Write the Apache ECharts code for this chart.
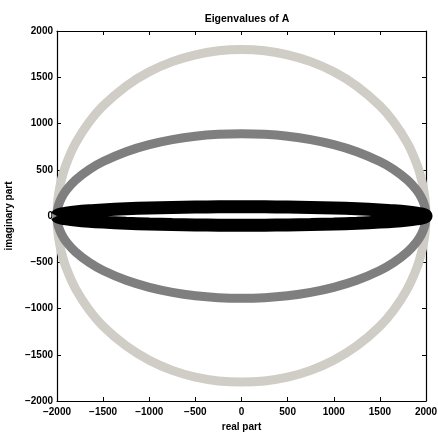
<!DOCTYPE html>
<html>
<head>
<meta charset="utf-8">
<script src="https://cdn.jsdelivr.net/npm/echarts@6/dist/echarts.min.js"></script>
<style>
  html, body { margin: 0; padding: 0; background: #fff; }
  #chart { width: 438px; height: 433px; }
</style>
</head>
<body>
<div id="chart"></div>
<script>
// points: real part along each ring
const realUpper = [-2000, -1995, -1980, -1950, -1900, -1800, -1650, -1500, -1250, -1000, -750, -500, -250, 0,
    250, 500, 750, 1000, 1250, 1500, 1650, 1800, 1900, 1950, 1980, 1995, 2000];
const realLower = [2000, 1995, 1980, 1950, 1900, 1800, 1650, 1500, 1250, 1000, 750, 500, 250, 0,
    -250, -500, -750, -1000, -1250, -1500, -1650, -1800, -1900, -1950, -1980, -1995, -2000];

// imaginary part, upper half then lower half
const lightUpper = [0, 127, 254, 400, 562, 785, 1017, 1191, 1405, 1559, 1669, 1743, 1786, 1800,
    1786, 1743, 1669, 1559, 1405, 1191, 1017, 785, 562, 400, 254, 127, 0];
const lightLower = [0, -127, -254, -400, -562, -785, -1017, -1191, -1405, -1559, -1669, -1743, -1783, -1795,
    -1783, -1743, -1669, -1559, -1405, -1191, -1017, -785, -562, -400, -254, -127, 0];
const darkUpper = [0, 63, 126, 198, 278, 388, 503, 589, 695, 771, 825, 862, 883, 890,
    883, 862, 825, 771, 695, 589, 503, 388, 278, 198, 126, 63, 0];
const darkLower = [0, -63, -126, -198, -278, -388, -503, -589, -695, -771, -825, -862, -883, -890,
    -883, -862, -825, -771, -695, -589, -503, -388, -278, -198, -126, -63, 0];
const blackUpper = [0, 7, 14, 22, 31, 44, 57, 66, 78, 87, 93, 97, 99, 100,
    99, 97, 93, 87, 78, 66, 57, 44, 31, 22, 14, 7, 0];
const blackLower = [0, -7, -14, -22, -31, -44, -57, -66, -78, -87, -93, -97, -99, -100,
    -99, -97, -93, -87, -78, -66, -57, -44, -31, -22, -14, -7, 0];

const xTicks = [-2000, -1500, -1000, -500, 0, 500, 1000, 1500, 2000];
const yTicks = [-2000, -1500, -1000, -500, 0, 500, 1000, 1500, 2000];

function ring(up, low) {
    const pts = realUpper.map((r, i) => [r, up[i]]);
    return pts.concat(realLower.map((r, i) => [r, low[i]]));
}

const font = 'Liberation Sans, Arial, Helvetica, sans-serif';
const fmt = v => String(v).replace('-', '\u2212');

const chart = echarts.init(document.getElementById('chart'));

const tickStyle = { inside: true, length: 4, lineStyle: { color: '#000', width: 1 } };
const lineStyle = { onZero: false, lineStyle: { color: '#000', width: 1.2 } };

const option = {
    backgroundColor: '#fff',
    animation: false,
    title: {
        text: 'Eigenvalues of A',
        left: 242,
        top: 9,
        textAlign: 'center',
        textStyle: { fontFamily: font, fontSize: 10.5, fontWeight: 'bold', color: '#000' }
    },
    grid: { left: 57, right: 12, top: 31, bottom: 32, containLabel: false, outerBoundsMode: 'none' },
    xAxis: [
        {
            type: 'value', min: -2000, max: 2000, interval: 500,
            position: 'bottom',
            name: 'real part', nameLocation: 'middle', nameGap: 19,
            nameTextStyle: { fontFamily: font, fontSize: 10, fontWeight: 'bold', color: '#000' },
            axisLine: lineStyle, axisTick: tickStyle, splitLine: { show: false },
            axisLabel: {
                margin: 6, fontFamily: font, fontSize: 10, fontWeight: 'bold', color: '#000',
                formatter: v => xTicks.includes(v) ? fmt(v) : ''
            }
        },
        {
            type: 'value', min: -2000, max: 2000, interval: 500,
            position: 'top',
            axisLine: lineStyle, axisTick: tickStyle, splitLine: { show: false },
            axisLabel: { show: false }
        }
    ],
    yAxis: [
        {
            type: 'value', min: -2000, max: 2000, interval: 500,
            position: 'left',
            name: 'imaginary part', nameLocation: 'middle', nameGap: 33,
            nameTextStyle: { fontFamily: font, fontSize: 10, fontWeight: 'bold', color: '#000' },
            axisLine: lineStyle, axisTick: tickStyle, splitLine: { show: false },
            axisLabel: {
                margin: 4, fontFamily: font, fontSize: 10, fontWeight: 'bold', color: '#000',
                formatter: v => yTicks.includes(v) ? fmt(v) : ''
            }
        },
        {
            type: 'value', min: -2000, max: 2000, interval: 500,
            position: 'right',
            axisLine: lineStyle, axisTick: tickStyle, splitLine: { show: false },
            axisLabel: { show: false }
        }
    ],
    series: [
        {
            type: 'line', data: ring(lightUpper, lightLower), smooth: 0.3,
            showSymbol: false, lineStyle: { color: '#d0cdc6', width: 9 }, silent: true
        },
        {
            type: 'line', data: ring(darkUpper, darkLower), smooth: 0.3,
            showSymbol: false, lineStyle: { color: '#7f7f7f', width: 9 }, silent: true
        },
        {
            type: 'line', data: ring(blackUpper, blackLower), smooth: 0.3,
            showSymbol: false, lineStyle: { color: '#000', width: 13 }, silent: true
        }
    ]
};

chart.setOption(option);
</script>
</body>
</html>
